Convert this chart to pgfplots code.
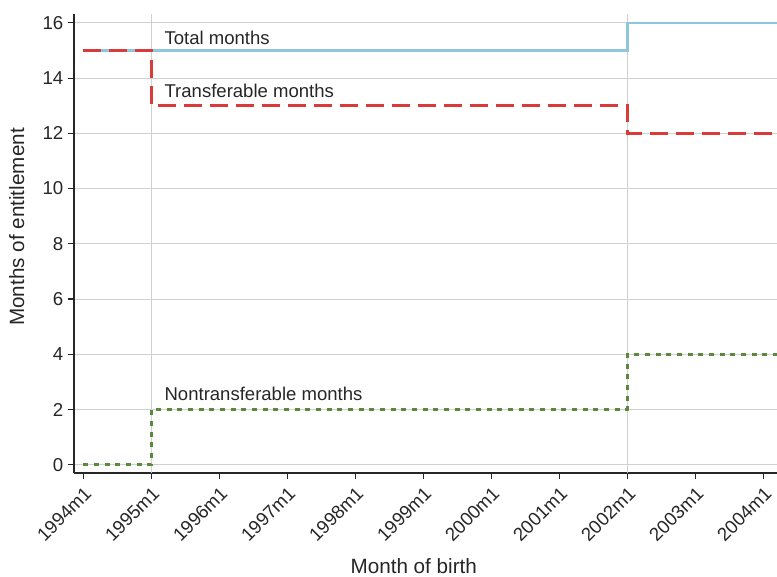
\documentclass[border=0pt]{standalone}
\usepackage{fontspec}
\setmainfont{Liberation Sans}
\usepackage{pgfplots}
\pgfplotsset{compat=1.18}
\definecolor{cblue}{HTML}{8EC6DC}
\definecolor{cred}{HTML}{D93A3A}
\definecolor{cgreen}{HTML}{5B8A3C}
\definecolor{cgrid}{HTML}{D0D0D0}
\definecolor{ctext}{HTML}{262626}
\begin{document}
\begin{tikzpicture}
\begin{axis}[
  name=ax, at={(0,0)}, anchor=south west,
  scale only axis, width=527.25pt, height=344.25pt,
  xmin=-1.64, xmax=122.4, ymin=-0.3, ymax=16.32,
  axis lines*=left,
  axis line style={ctext, line width=0.8pt},
  xtick={0,12,...,120},
  xticklabels={1994m1,1995m1,1996m1,1997m1,1998m1,1999m1,2000m1,2001m1,2002m1,2003m1,2004m1},
  ytick={0,2,...,16},
  tick align=outside, major tick length=4.5pt,
  tick style={ctext, line width=0.8pt},
  ymajorgrids, grid style={cgrid, line width=0.75pt},
  x tick label style={rotate=45, anchor=north east, font=\fontsize{14}{16}\selectfont, text=ctext},
  y tick label style={font=\fontsize{14}{16}\selectfont, text=ctext},
  /pgf/number format/assume math mode=true,
  clip=true,
]
\addplot[cgrid, line width=0.75pt, forget plot] coordinates {(12,-0.3) (12,16.32)};
\addplot[cgrid, line width=0.75pt, forget plot] coordinates {(96,-0.3) (96,16.32)};
\addplot[const plot, cblue, line width=1.75pt] coordinates {(0,15) (96,16) (124,16)};
\addplot[const plot, cred, line width=2pt, dash pattern=on 13.5pt off 6pt] coordinates {(0,15) (12,13) (96,12) (124,12)};
\addplot[const plot, cgreen, line width=2pt, dash pattern=on 3.8pt off 4.2pt] coordinates {(0,0) (12,2) (96,4) (124,4)};
\node[anchor=base west, font=\fontsize{13.9}{16}\selectfont, text=ctext, inner sep=0pt] at (axis cs:14.3,15.22) {Total months};
\node[anchor=base west, font=\fontsize{13.9}{16}\selectfont, text=ctext, inner sep=0pt] at (axis cs:14.3,13.29) {Transferable months};
\node[anchor=base west, font=\fontsize{13.9}{16}\selectfont, text=ctext, inner sep=0pt] at (axis cs:14.3,2.34) {Nontransferable months};
\end{axis}
\node[anchor=base, font=\fontsize{15.5}{18}\selectfont, text=ctext, inner sep=0pt] at (254.8pt,-75pt) {Month of birth};
\node[anchor=base, rotate=90, font=\fontsize{15.5}{18}\selectfont, text=ctext, inner sep=0pt] at (-37.5pt,184.5pt) {Months of entitlement};
\pgfresetboundingbox
\path[use as bounding box] (-55.5pt,-77.25pt) rectangle (527.25pt,354.75pt);
\end{tikzpicture}
\end{document}
